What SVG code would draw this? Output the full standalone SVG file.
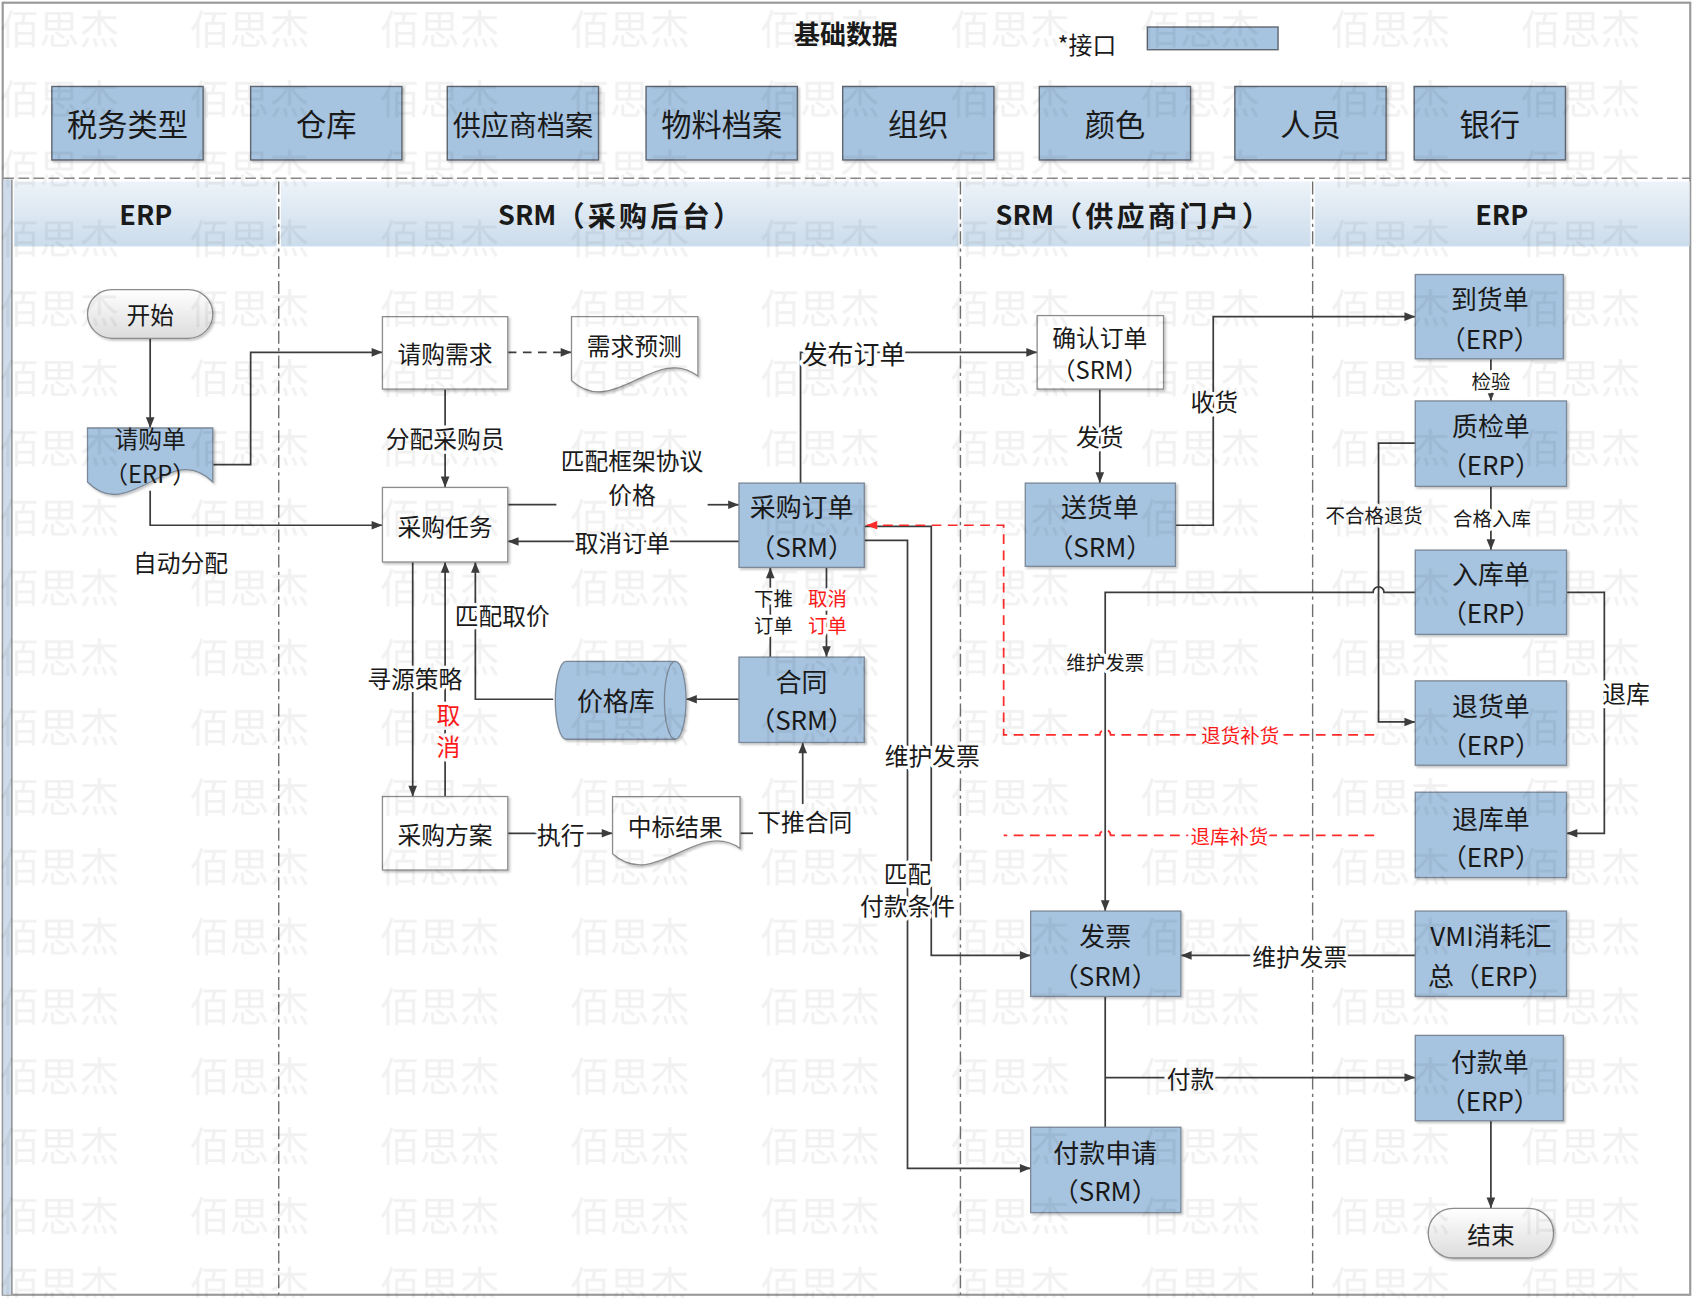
<svg xmlns="http://www.w3.org/2000/svg" width="1694" height="1298" viewBox="0 0 1694 1298">
<defs>
<style>
.t{font-family:"Noto Sans CJK SC","Noto Sans",sans-serif;text-anchor:middle;dominant-baseline:central;fill:#1a1a1a;font-size:22px}
.nb{font-size:24px}
.bd{font-size:28px}
.hd{font-size:25px;font-weight:bold}
.hc{font-size:26px;letter-spacing:3px}
.sm{font-size:18px}
.red{fill:#ff1a1a}
.lbl{paint-order:stroke;stroke:#fff;stroke-width:6px;stroke-linejoin:round}
.blue{fill:#a6c3df;stroke:#7b8897;stroke-width:1.2}
.base{fill:#a6c3df;stroke:#5f6670;stroke-width:1.3}
.white{fill:#fff;stroke:#8c8c8c;stroke-width:1.2}
.term{fill:url(#tg);stroke:#8c8c8c;stroke-width:1.2}
.c{fill:none;stroke:#3c3c3c;stroke-width:1.6}
.ca{marker-end:url(#ah)}
.dash{stroke-dasharray:8 6}
.rd{fill:none;stroke:#ff2a2a;stroke-width:1.6;stroke-dasharray:9 6}
.lane{stroke:#6f6f6f;stroke-width:1.3;stroke-dasharray:12 4 3 4;fill:none}
.hdr{fill:url(#hg)}
.wm{font-family:"Noto Sans CJK SC",sans-serif;font-size:37px;fill:#000;fill-opacity:0.055;text-anchor:middle;dominant-baseline:central}
</style>
<linearGradient id="hg" x1="0" y1="0" x2="0" y2="1"><stop offset="0" stop-color="#edf3f9"/><stop offset="1" stop-color="#cbdcec"/></linearGradient>
<linearGradient id="tg" x1="0" y1="0" x2="0" y2="1"><stop offset="0" stop-color="#ffffff"/><stop offset="1" stop-color="#dcdcdc"/></linearGradient>
<filter id="sh" x="-10%" y="-10%" width="130%" height="130%"><feDropShadow dx="1.5" dy="1.5" stdDeviation="1.2" flood-color="#000" flood-opacity="0.25"/></filter>
<marker id="ah" viewBox="0 0 10 10" refX="10" refY="5" markerWidth="11" markerHeight="10" markerUnits="userSpaceOnUse" orient="auto"><path d="M0,1 L10,5 L0,9 Z" fill="#3c3c3c"/></marker>
<marker id="ahr" viewBox="0 0 10 10" refX="10" refY="5" markerWidth="11" markerHeight="10" markerUnits="userSpaceOnUse" orient="auto"><path d="M0,1 L10,5 L0,9 Z" fill="#ff2a2a"/></marker>
<pattern id="wmp" patternUnits="userSpaceOnUse" x="0" y="0" width="176" height="64.6"><text class="wm" x="55" y="25">佰思杰</text></pattern>
</defs>
<rect x="0" y="0" width="1694" height="1298" fill="#fff"/>
<g transform="scale(1.08036,1.08077)">
<g id="frame">
<rect x="2.5" y="2.5" width="1562" height="1195.5" fill="none" stroke="#999" stroke-width="2"/>
<rect x="3" y="166" width="8" height="1032" fill="#cddbea"/>
<line x1="11" y1="166" x2="11" y2="1198" stroke="#8a8a8a" stroke-width="1.3"/>
<line x1="3" y1="165" x2="1565" y2="165" stroke="#8a8a8a" stroke-width="1.4" stroke-dasharray="10 4"/>
<rect class="hdr" x="13" y="168" width="243" height="60"/>
<rect class="hdr" x="260" y="168" width="627" height="60"/>
<rect class="hdr" x="891" y="168" width="322" height="60"/>
<rect class="hdr" x="1217" y="168" width="347" height="60"/>
<line class="lane" x1="258" y1="168" x2="258" y2="1198"/>
<line class="lane" x1="889" y1="168" x2="889" y2="1198"/>
<line class="lane" x1="1215" y1="168" x2="1215" y2="1198"/>
<text class="t hd" x="135" y="198">ERP</text>
<text class="t hd" x="575" y="198">SRM<tspan class="hc">（采购后台）</tspan></text>
<text class="t hd" x="1050" y="198">SRM<tspan class="hc">（供应商门户）</tspan></text>
<text class="t hd" x="1390" y="198">ERP</text>
<text class="t" x="783" y="30" style="font-size:24px;font-weight:bold">基础数据</text>
<text class="t" x="1006" y="40">*接口</text>
<rect x="1062" y="25" width="121" height="21" class="base"/>
</g>
<g id="basedata">
<g id="n-tax"><rect class="base" x="48" y="80" width="140" height="68" filter="url(#sh)"/><text class="t bd" x="118" y="114">税务类型</text></g>
<g id="n-warehouse"><rect class="base" x="232" y="80" width="140" height="68" filter="url(#sh)"/><text class="t bd" x="302" y="114">仓库</text></g>
<g id="n-supplier"><rect class="base" x="414" y="80" width="140" height="68" filter="url(#sh)"/><text class="t" style="font-size:26px" x="484" y="114">供应商档案</text></g>
<g id="n-material"><rect class="base" x="598" y="80" width="140" height="68" filter="url(#sh)"/><text class="t bd" x="668" y="114">物料档案</text></g>
<g id="n-org"><rect class="base" x="780" y="80" width="140" height="68" filter="url(#sh)"/><text class="t bd" x="850" y="114">组织</text></g>
<g id="n-color"><rect class="base" x="962" y="80" width="140" height="68" filter="url(#sh)"/><text class="t bd" x="1032" y="114">颜色</text></g>
<g id="n-person"><rect class="base" x="1143" y="80" width="140" height="68" filter="url(#sh)"/><text class="t bd" x="1213" y="114">人员</text></g>
<g id="n-bank"><rect class="base" x="1309" y="80" width="140" height="68" filter="url(#sh)"/><text class="t bd" x="1379" y="114">银行</text></g>
</g>
<g id="connectors">
<path class="c ca" d="M139,313 V396"/>
<path class="c ca" d="M197,430 H232 V326 H354"/>
<path class="c ca" d="M139,454 V486 H354"/>
<path class="c ca dash" d="M470,326 H529"/>
<path class="c ca" d="M412,360 V451"/>
<path class="c" d="M470,467 H515"/>
<path class="c ca" d="M655,467 H684"/>
<path class="c ca" d="M684,501 H470"/>
<path class="c ca" d="M382,520 V737"/>
<path class="c ca" d="M412,737 V520"/>
<path class="c ca" d="M512,647 H440 V520"/>
<path class="c ca" d="M470,771 H567"/>
<path class="c" d="M685,771 H697"/>
<path class="c ca" d="M743,744 V687"/>
<path class="c ca" d="M684,647 H635"/>
<path class="c ca" d="M713,608 V525"/>
<path class="c ca" d="M765,525 V608"/>
<path class="c ca" d="M741,447 V326 H960"/>
<path class="c ca" d="M1018,360 V447"/>
<path class="c ca" d="M1088,486 H1123 V293 H1310"/>
<path class="c ca" d="M1380,332 V371"/>
<path class="c ca" d="M1380,450 V509"/>
<path class="c ca" d="M1310,410 H1276 V668 H1310"/>
<path class="c ca" d="M1450,548 H1485 V771 H1450"/>
<path class="c ca" d="M1310,548 H1281 A5,5 0 0 0 1271,548 H1023 V843"/>
<path class="c ca" d="M800,487 H862 V884 H954"/>
<path class="c ca" d="M800,500 H840 V1081 H954"/>
<path class="c ca" d="M1310,884 H1093"/>
<path class="c" d="M1023,922 V1043"/>
<path class="c ca" d="M1023,997 H1310"/>
<path class="c ca" d="M1380,1037 V1118"/>
<path class="rd" marker-end="url(#ahr)" d="M1272,680 H1028 A5,5 0 0 0 1018,680 H929 V486 H802"/>
<path class="rd" d="M1272,773 H1028 A5,5 0 0 0 1018,773 H929"/>
<text class="t lbl" x="167" y="520">自动分配</text>
<text class="t lbl" x="412" y="405">分配采购员</text>
<text class="t lbl" x="585" y="425">匹配框架协议</text>
<text class="t lbl" x="585" y="457">价格</text>
<text class="t lbl" x="576" y="501">取消订单</text>
<text class="t lbl" x="384" y="627">寻源策略</text>
<text class="t lbl red" x="415" y="660">取</text>
<text class="t lbl red" x="415" y="690">消</text>
<text class="t lbl" x="465" y="569">匹配取价</text>
<text class="t lbl" x="519" y="771">执行</text>
<text class="t lbl" x="745" y="759">下推合同</text>
<text class="t lbl sm" x="716" y="553">下推</text>
<text class="t lbl sm" x="716" y="578">订单</text>
<text class="t lbl sm red" x="766" y="553">取消</text>
<text class="t lbl sm red" x="766" y="578">订单</text>
<text class="t lbl" style="font-size:24px" x="790" y="326">发布订单</text>
<text class="t lbl" x="1018" y="403">发货</text>
<text class="t lbl" x="1124" y="371">收货</text>
<text class="t lbl sm" x="1380" y="352">检验</text>
<text class="t lbl sm" x="1381" y="479">合格入库</text>
<text class="t lbl sm" x="1272" y="476">不合格退货</text>
<text class="t lbl" x="1505" y="641">退库</text>
<text class="t lbl sm" x="1023" y="612">维护发票</text>
<text class="t lbl sm red" x="1148" y="680">退货补货</text>
<text class="t lbl sm red" x="1138" y="773">退库补货</text>
<text class="t lbl" x="863" y="698">维护发票</text>
<text class="t lbl" x="840" y="807">匹配</text>
<text class="t lbl" x="840" y="837">付款条件</text>
<text class="t lbl" x="1203" y="884">维护发票</text>
<text class="t lbl" x="1102" y="997">付款</text>
</g>
<g id="n-start"><rect class="term" x="81" y="268" width="116" height="45" rx="22.5" filter="url(#sh)"/><text class="t" x="139" y="290">开始</text></g>
<g id="n-pr"><path class="blue" filter="url(#sh)" d="M81,396 H197 V446 C158,406 120,486 81,446 Z"/><text class="t" x="139" y="405">请购单</text><text class="t" x="139" y="437">（ERP）</text></g>
<g id="n-req"><rect class="white" x="354" y="293" width="116" height="67" filter="url(#sh)"/><text class="t" x="412" y="326">请购需求</text></g>
<g id="n-forecast"><path class="white" filter="url(#sh)" d="M529,293 H646 V348 C607,318 568,388 529,352 Z"/><text class="t" x="587" y="319">需求预测</text></g>
<g id="n-task"><rect class="white" x="354" y="451" width="116" height="69" filter="url(#sh)"/><text class="t" x="412" y="486">采购任务</text></g>
<g id="n-po"><rect class="blue" x="684" y="447" width="116" height="78" filter="url(#sh)"/><text class="t nb" x="742" y="468">采购订单</text><text class="t nb" x="742" y="505">（SRM）</text></g>
<g id="n-contract"><rect class="blue" x="684" y="608" width="116" height="79" filter="url(#sh)"/><text class="t nb" x="742" y="630">合同</text><text class="t nb" x="742" y="665">（SRM）</text></g>
<g id="n-pricelib"><path class="blue" filter="url(#sh)" d="M524,612 H625 A10,36 0 0 1 625,684 H524 A10,36 0 0 1 524,612 Z"/><path fill="none" stroke="#7b8897" stroke-width="1.2" d="M625,612 A10,36 0 0 0 625,684"/><text class="t nb" x="570" y="647">价格库</text></g>
<g id="n-plan"><rect class="white" x="354" y="737" width="116" height="68" filter="url(#sh)"/><text class="t" x="412" y="771">采购方案</text></g>
<g id="n-bid"><path class="white" filter="url(#sh)" d="M567,737 H685 V785 C646,757 606,825 567,790 Z"/><text class="t" x="625" y="764">中标结果</text></g>
<g id="n-confirm"><rect class="white" x="960" y="292" width="117" height="68" filter="url(#sh)"/><text class="t" x="1018" y="311">确认订单</text><text class="t" x="1018" y="341">（SRM）</text></g>
<g id="n-delivery"><rect class="blue" x="949" y="447" width="139" height="77" filter="url(#sh)"/><text class="t nb" x="1018" y="468">送货单</text><text class="t nb" x="1018" y="505">（SRM）</text></g>
<g id="n-arrival"><rect class="blue" x="1310" y="254" width="137" height="78" filter="url(#sh)"/><text class="t nb" x="1379" y="275">到货单</text><text class="t nb" x="1379" y="312">（ERP）</text></g>
<g id="n-qc"><rect class="blue" x="1310" y="371" width="140" height="79" filter="url(#sh)"/><text class="t nb" x="1380" y="393">质检单</text><text class="t nb" x="1380" y="429">（ERP）</text></g>
<g id="n-instock"><rect class="blue" x="1310" y="509" width="140" height="78" filter="url(#sh)"/><text class="t nb" x="1380" y="530">入库单</text><text class="t nb" x="1380" y="566">（ERP）</text></g>
<g id="n-return"><rect class="blue" x="1310" y="630" width="140" height="78" filter="url(#sh)"/><text class="t nb" x="1380" y="652">退货单</text><text class="t nb" x="1380" y="688">（ERP）</text></g>
<g id="n-outstock"><rect class="blue" x="1310" y="733" width="140" height="79" filter="url(#sh)"/><text class="t nb" x="1380" y="756">退库单</text><text class="t nb" x="1380" y="792">（ERP）</text></g>
<g id="n-vmi"><rect class="blue" x="1310" y="843" width="140" height="79" filter="url(#sh)"/><text class="t nb" x="1380" y="865">VMI消耗汇</text><text class="t nb" x="1380" y="902">总（ERP）</text></g>
<g id="n-invoice"><rect class="blue" x="954" y="843" width="139" height="79" filter="url(#sh)"/><text class="t nb" x="1023" y="865">发票</text><text class="t nb" x="1023" y="902">（SRM）</text></g>
<g id="n-payment"><rect class="blue" x="1310" y="958" width="137" height="79" filter="url(#sh)"/><text class="t nb" x="1379" y="981">付款单</text><text class="t nb" x="1379" y="1017">（ERP）</text></g>
<g id="n-payreq"><rect class="blue" x="954" y="1043" width="139" height="79" filter="url(#sh)"/><text class="t nb" x="1023" y="1065">付款申请</text><text class="t nb" x="1023" y="1101">（SRM）</text></g>
<g id="n-end"><rect class="term" x="1322" y="1118" width="116" height="46" rx="23" filter="url(#sh)"/><text class="t" x="1380" y="1141">结束</text></g>
<rect id="watermark" x="0" y="0" width="1568" height="1201" fill="url(#wmp)" pointer-events="none"/>
</g>
</svg>
